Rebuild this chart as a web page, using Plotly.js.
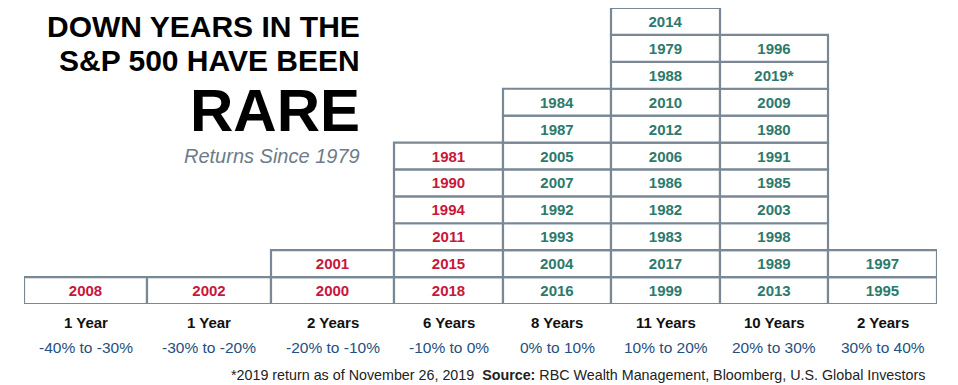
<!DOCTYPE html>
<html>
<head>
<meta charset="utf-8">
<script src="https://cdn.plot.ly/plotly-3.0.1.min.js"></script>
<style>html,body{margin:0;padding:0;background:#fff;}#chart{width:958px;height:385px;}</style>
</head>
<body>
<div id="chart"></div>
<script>
// ---- data ----
const categories = ['-40% to -30%', '-30% to -20%', '-20% to -10%', '-10% to 0%', '0% to 10%', '10% to 20%', '20% to 30%', '30% to 40%'];
const countLabels = ['1 Year', '1 Year', '2 Years', '6 Years', '8 Years', '11 Years', '10 Years', '2 Years'];
// years listed bottom to top in each return band
const band1Years = ['2008'];
const band2Years = ['2002'];
const band3Years = ['2000', '2001'];
const band4Years = ['2018', '2015', '2011', '1994', '1990', '1981'];
const band5Years = ['2016', '2004', '1993', '1992', '2007', '2005', '1987', '1984'];
const band6Years = ['1999', '2017', '1983', '1982', '1986', '2006', '2012', '2010', '1988', '1979', '2014'];
const band7Years = ['2013', '1989', '1998', '2003', '1985', '1991', '1980', '2009', '2019*', '1996'];
const band8Years = ['1995', '1997'];
const bandYears = [band1Years, band2Years, band3Years, band4Years, band5Years, band6Years, band7Years, band8Years];

// ---- style ----
const colWidths = [123, 124, 123, 109, 108, 109, 108, 109];
const red = '#c8173a', teal = '#2c7a6c', rangeBlue = '#244f80', border = '#7a8794';
const totalW = colWidths.reduce((a, b) => a + b, 0);
const centers = [];
let acc = 0;
colWidths.forEach(w => { centers.push(acc + w / 2); acc += w; });

const traces = bandYears.map((yrs, i) => ({
  type: 'bar',
  x: yrs.map(() => centers[i]),
  y: yrs.map(() => 1),
  base: yrs.map((_, k) => k),
  width: yrs.map(() => colWidths[i]),
  text: yrs,
  textposition: 'inside',
  insidetextanchor: 'middle',
  constraintext: 'none',
  textfont: {family: 'Liberation Sans, Arial, sans-serif', size: 15, weight: 'bold', color: i < 4 ? red : teal},
  marker: {color: '#ffffff', line: {color: border, width: 2.2}},
  hoverinfo: 'skip',
  showlegend: false
}));

const annotations = [];
centers.forEach((c, i) => {
  annotations.push({x: c, xref: 'x', y: 0, yref: 'paper', yanchor: 'middle', yshift: -18, showarrow: false,
    text: countLabels[i], font: {family: 'Liberation Sans, Arial, sans-serif', size: 15, weight: 'bold', color: '#111'}});
  annotations.push({x: c, xref: 'x', y: 0, yref: 'paper', yanchor: 'middle', yshift: -43, showarrow: false,
    text: categories[i], font: {family: 'Liberation Sans, Arial, sans-serif', size: 15.5, color: rangeBlue}});
});
const titleFont = {family: 'Liberation Sans, Arial, sans-serif', weight: 'bold', color: '#000'};
const tx = 362 - 24; // right edge of title block in x units
annotations.push({x: tx, xref: 'x', xanchor: 'right', y: 1, yref: 'paper', yanchor: 'middle', yshift: -18, showarrow: false,
  text: 'DOWN YEARS IN THE', font: Object.assign({size: 30}, titleFont)});
annotations.push({x: tx, xref: 'x', xanchor: 'right', y: 1, yref: 'paper', yanchor: 'middle', yshift: -52, showarrow: false,
  text: 'S&amp;P 500 HAVE BEEN', font: Object.assign({size: 30}, titleFont)});
annotations.push({x: tx, xref: 'x', xanchor: 'right', y: 1, yref: 'paper', yanchor: 'middle', yshift: -102.5, showarrow: false,
  text: 'RARE', font: Object.assign({size: 60}, titleFont)});
annotations.push({x: tx, xref: 'x', xanchor: 'right', y: 1, yref: 'paper', yanchor: 'middle', yshift: -147.5, showarrow: false,
  text: '<i>Returns Since 1979</i>', font: {family: 'Liberation Sans, Arial, sans-serif', size: 20, color: '#6d7b8a'}});
annotations.push({x: 927 - 24, xref: 'x', xanchor: 'right', y: 0, yref: 'paper', yanchor: 'middle', yshift: -71, showarrow: false,
  text: '*2019 return as of November 26, 2019  <b>Source:</b> RBC Wealth Management, Bloomberg, U.S. Global Investors',
  font: {family: 'Liberation Sans, Arial, sans-serif', size: 14.3, color: '#222'}});

const layout = {
  width: 958, height: 385,
  margin: {l: 24, r: 21, t: 8, b: 81, pad: 0},
  paper_bgcolor: '#fff', plot_bgcolor: '#fff',
  barmode: 'overlay',
  xaxis: {range: [0, totalW], showgrid: false, zeroline: false, showticklabels: false, showline: false, ticks: '', fixedrange: true},
  yaxis: {range: [0, 11], showgrid: false, zeroline: false, showticklabels: false, showline: false, ticks: '', fixedrange: true},
  annotations: annotations,
  hovermode: false,
  showlegend: false
};
Plotly.newPlot('chart', traces, layout, {staticPlot: true, displayModeBar: false});
</script>
</body>
</html>
